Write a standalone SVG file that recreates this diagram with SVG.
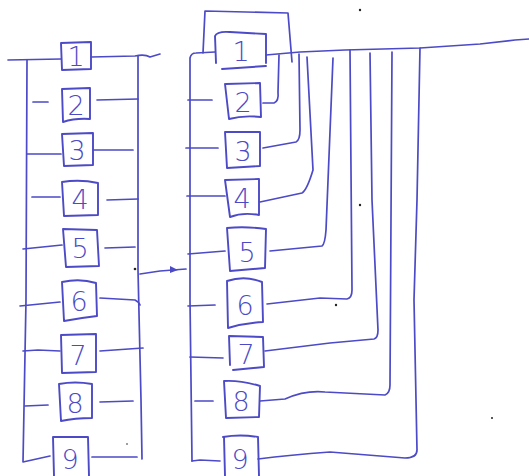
<svg xmlns="http://www.w3.org/2000/svg" width="529" height="476" viewBox="0 0 529 476">
<style>
.l{fill:none;stroke:#4c4ac6;stroke-width:1.7;stroke-linecap:round;stroke-linejoin:round}
.b{fill:none;stroke:#4c4ac6;stroke-width:1.9;stroke-linejoin:round;stroke-linecap:round}
.t{fill:#4c4ac6;font-family:"DejaVu Sans",sans-serif;font-size:27px;font-weight:300;text-anchor:middle}
.d{fill:#222}
</style>
<rect width="529" height="476" fill="#fff"/>
<g id="connectors">
<!-- left column -->
<path class="l" d="M8,60 L61,59"/>
<path class="l" d="M91,57 L135,56 Q145,54 150,57 L160,54"/>
<path class="l" d="M27,60 L26,300 L23,462 L50,456"/>
<path class="l" d="M138,56 L138,270 L141,400 L142,459"/>
<path class="l" d="M33,102 L48,102 M97,100 L138,99"/>
<path class="l" d="M27,154 L61,154 M93,150 L133,150"/>
<path class="l" d="M32,197 L60,197 M107,200 L138,199"/>
<path class="l" d="M23,249 L62,245 M105,248 L135,247"/>
<path class="l" d="M20,306 L60,302 M100,298 L135,300 Q139,302 140,305"/>
<path class="l" d="M23,351 L38,350 L60,351 M100,351 L143,348"/>
<path class="l" d="M25,406 L48,405 M100,402 L133,401"/>
<path class="l" d="M92,457 L137,457"/>
<!-- arrow between columns -->
<path class="l" d="M140,274 L160,271 L186,269"/>
<path d="M170,266 L178,270 L170,273 Z" fill="#4c4ac6"/>
<!-- right column -->
<path class="l" d="M192,461 L190,300 L190,58 Q191,53 196,53 L215,52"/>
<path class="l" d="M203,53 L205,11 L288,13 L292,62"/>
<path class="l" d="M188,100 L212,100"/>
<path class="l" d="M186,148 L218,148"/>
<path class="l" d="M187,196 L225,196"/>
<path class="l" d="M188,254 L225,251"/>
<path class="l" d="M188,306 L215,305"/>
<path class="l" d="M190,357 L223,358"/>
<path class="l" d="M195,401 L213,401"/>
<path class="l" d="M192,461 L200,460 L220,461"/>
<path class="l" d="M266,55 L300,52 L345,50 L420,48 L480,44 L515,40 L529,39"/>
<path class="l" d="M263,103 L274,103 Q279,101 278,92 L279,55"/>
<path class="l" d="M263,148 L296,142 Q300,140 300,130 L299,54"/>
<path class="l" d="M260,202 L302,193 Q307,190 313,170 L307,57"/>
<path class="l" d="M270,251 L322,246 Q325,244 326,230 L333,58"/>
<path class="l" d="M267,304 L320,298 L347,299 Q352,298 352,290 L350,50"/>
<path class="l" d="M265,351 L330,343 L374,339 Q378,338 378,330 L372,200 L370,53"/>
<path class="l" d="M260,401 L285,399 Q305,390 325,392 L385,395 Q390,393 390,385 L392,52"/>
<path class="l" d="M258,459 Q290,455 330,452 L405,458 Q417,458 417,450 L414,300 L417,200 L420,48"/>
</g>
<g id="L1"><path class="b" d="M61,43 L91,42 L91,69 L62,70 Z"/><text class="t" x="76" y="66">1</text></g>
<g id="L2"><path class="b" d="M62,89 L90,88 L90,119 Q75,118 63,122 Z"/><text class="t" x="76" y="115">2</text></g>
<g id="L3"><path class="b" d="M62,134 L93,133 L93,165 L64,166 Z"/><text class="t" x="77" y="160">3</text></g>
<g id="L4"><path class="b" d="M62,182 Q80,179 98,183 L98,215 L64,216 Z"/><text class="t" x="80" y="209">4</text></g>
<g id="L5"><path class="b" d="M63,229 L97,230 L99,266 L66,267 Z"/><text class="t" x="80" y="258">5</text></g>
<g id="L6"><path class="b" d="M62,282 Q80,278 96,283 L97,316 Q80,318 64,321 Z"/><text class="t" x="79" y="311">6</text></g>
<g id="L7"><path class="b" d="M61,335 L96,334 L96,372 L62,373 Z"/><text class="t" x="78" y="365">7</text></g>
<g id="L8"><path class="b" d="M59,384 Q75,381 92,384 L92,418 Q75,418 61,421 Z"/><text class="t" x="75" y="413">8</text></g>
<g id="L9"><path class="b" d="M53,437 L88,437 L89,476 M53,437 L54,476"/><text class="t" x="70" y="469">9</text></g>
<g id="R1"><path class="b" d="M216,63 L215,36 Q217,31 230,32 L266,34 L266,63 M222,69 L266,66"/><text class="t" x="241" y="61">1</text></g>
<g id="R2"><path class="b" d="M226,84 L260,83 L261,117 Q243,115 229,119 L225,84"/><text class="t" x="243" y="112">2</text></g>
<g id="R3"><path class="b" d="M225,132 L260,132 L260,166 L227,168 Z"/><text class="t" x="243" y="161">3</text></g>
<g id="R4"><path class="b" d="M225,180 L259,179 L259,215 Q243,212 230,217 Z"/><text class="t" x="242" y="208">4</text></g>
<g id="R5"><path class="b" d="M227,228 Q245,226 266,229 L265,268 L230,271 Z"/><text class="t" x="247" y="262">5</text></g>
<g id="R6"><path class="b" d="M227,281 Q245,275 262,282 L263,322 Q245,323 228,328 Z"/><text class="t" x="245" y="315">6</text></g>
<g id="R7"><path class="b" d="M229,336 L263,337 L264,367 L233,370 M229,336 L230,365"/><text class="t" x="246" y="364">7</text></g>
<g id="R8"><path class="b" d="M224,381 Q240,380 260,386 L259,417 L226,418 Z"/><text class="t" x="241" y="411">8</text></g>
<g id="R9"><path class="b" d="M223,437 Q240,434 258,437 L259,476 M224,437 L225,476"/><text class="t" x="240" y="469">9</text></g>
<g id="dots">
<circle class="d" cx="360" cy="10" r="1.2"/>
<circle class="d" cx="360" cy="205" r="1.2"/>
<circle class="d" cx="336" cy="305" r="1.2"/>
<circle class="d" cx="492" cy="418" r="1"/>
<circle class="d" cx="135" cy="269" r="1.3"/>
<circle class="d" cx="127" cy="444" r="0.8"/>
</g>
</svg>
